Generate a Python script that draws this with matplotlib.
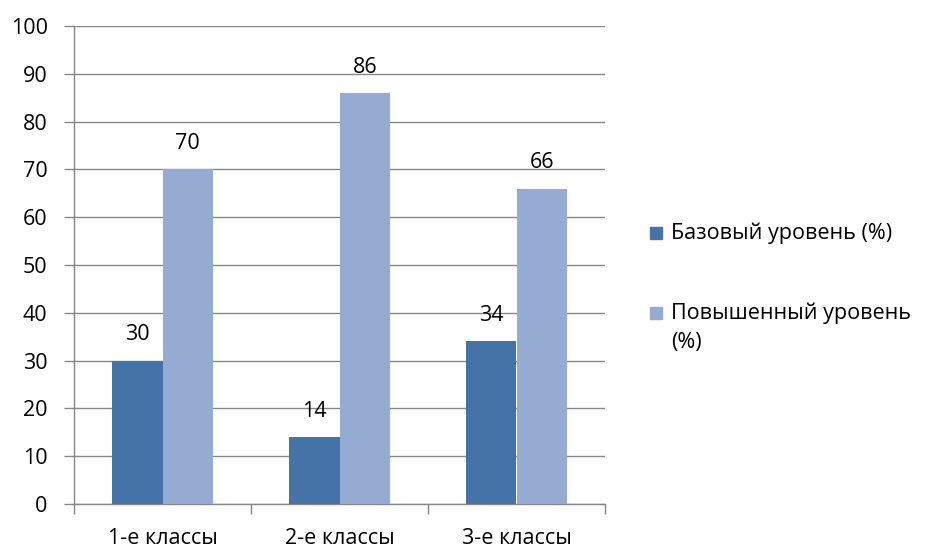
import matplotlib
matplotlib.use("Agg")
import matplotlib.pyplot as plt
from matplotlib.patches import Rectangle
import numpy as np

categories = ["1-е классы", "2-е классы", "3-е классы"]
base = [30, 14, 34]
advanced = [70, 86, 66]
series_names = ["Базовый уровень (%)", "Повышенный уровень\n(%)"]

plt.rcParams['font.family'] = ['Open Sans', 'DejaVu Sans']
FS = 15.5

fig = plt.figure(figsize=(9.26, 5.49), dpi=100)
ax = fig.add_axes([74/926, 1-504/549, (605-74)/926, (504-26)/549])

x = np.arange(len(categories))
w = 0.285
c1 = "#4572A7"
c2 = "#95ABD3"
colors = [c1, c2]
ax.bar(x - w/2, base, w, color=c1, zorder=3)
ax.bar(x + w/2, advanced, w, color=c2, zorder=3)

for xi, v in zip(x - w/2, base):
    ax.text(xi, v + 5.4, str(v), ha="center", va="center", fontsize=FS)
for xi, v in zip(x + w/2, advanced):
    ax.text(xi, v + 5.4, str(v), ha="center", va="center", fontsize=FS)

ax.set_xlim(-0.5, 2.5)
ax.set_ylim(0, 100)
ax.set_yticks(range(0, 101, 10))
ax.yaxis.grid(True, color="#868686", linewidth=1, zorder=0)
ax.set_axisbelow(True)
ax.set_xticks([-0.5, 0.5, 1.5, 2.5], minor=False)
ax.set_xticklabels([])
ax.set_xticks(x, minor=True)
ax.set_xticklabels(categories, minor=True, fontsize=FS)
ax.tick_params(axis="x", which="minor", length=0, pad=17)
ax.tick_params(axis="x", which="major", length=7, color="#868686", width=1)
ax.tick_params(axis="y", length=7, color="#868686", width=1, labelsize=FS, pad=12)
for s in ["top", "right"]:
    ax.spines[s].set_visible(False)
for s in ["left", "bottom"]:
    ax.spines[s].set_color("#868686")
    ax.spines[s].set_linewidth(1)

# legend drawn manually (square aligned to first text line)
leg_y = [233, 313]
for name, col, yc in zip(series_names, colors, leg_y):
    fig.patches.append(Rectangle((650/926, 1-(yc+6)/549), 12/926, 12/549,
                                 transform=fig.transFigure, color=col))
    fig.text(671/926, 1-(yc-10)/549, name, ha="left", va="top",
             fontsize=FS, linespacing=1.45)

fig.savefig("out.png", dpi=100)
